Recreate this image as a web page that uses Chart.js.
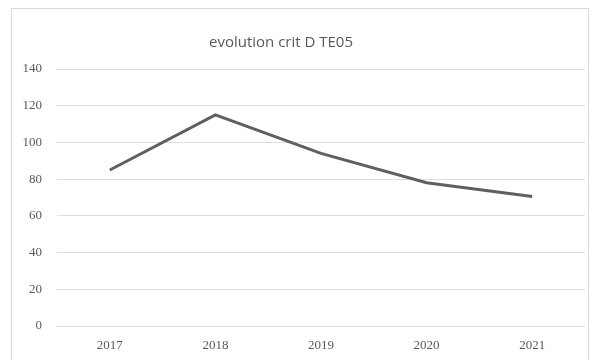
<!DOCTYPE html>
<html>
<head>
<meta charset="utf-8">
<script src="https://cdn.jsdelivr.net/npm/chart.js@4/dist/chart.umd.min.js"></script>
<style>
  html, body { margin: 0; padding: 0; background: #fff; }
  #wrap { position: relative; width: 593px; height: 360px; overflow: hidden; }
  #frame { position: absolute; left: 11px; top: 8px; width: 578px; height: 400px;
           border: 1px solid #d9d9d9; box-sizing: border-box; pointer-events: none; }
  #title { position: absolute; left: 181px; width: 200px; top: 31px; text-align: center;
           font: 15px "Open Sans", sans-serif; color: #595959; white-space: nowrap; }
  canvas { position: absolute; left: 0; top: 0; }
</style>
</head>
<body>
<div id="wrap">
  <canvas id="c" width="593" height="360"></canvas>
  <div id="frame"></div>
  <div id="title">evolution crit D TE05</div>
</div>
<script>
const years = ['2017', '2018', '2019', '2020', '2021'];
const values = [85, 115, 94, 78, 70.5];
const yTicks = [0, 20, 40, 60, 80, 100, 120, 140];

const tickFont = { family: 'Liberation Serif', size: 13 };

new Chart(document.getElementById('c'), {
  type: 'line',
  data: {
    labels: years,
    datasets: [{
      data: values,
      borderColor: '#5f5f5f',
      borderWidth: 3,
      pointRadius: 0,
      tension: 0,
      fill: false
    }]
  },
  options: {
    responsive: false,
    animation: false,
    devicePixelRatio: 1,
    layout: { padding: { top: 69, right: 8, bottom: 6, left: 0 } },
    plugins: {
      legend: { display: false },
      tooltip: { enabled: false },
      title: { display: false }
    },
    scales: {
      x: {
        offset: true,
        afterFit(scale) { scale.height = 28; },
        grid: { display: false, drawTicks: false },
        border: { display: false },
        ticks: { color: '#5a5a5a', padding: 12, maxRotation: 0, font: tickFont }
      },
      y: {
        min: 0,
        max: 140,
        afterFit(scale) { scale.width = 57; },
        afterBuildTicks(scale) { scale.ticks = yTicks.map(v => ({ value: v })); },
        grid: { color: '#dedede', lineWidth: 1, drawTicks: false },
        border: { display: false },
        ticks: { color: '#5a5a5a', padding: 15, font: tickFont }
      }
    }
  }
});
</script>
</body>
</html>
